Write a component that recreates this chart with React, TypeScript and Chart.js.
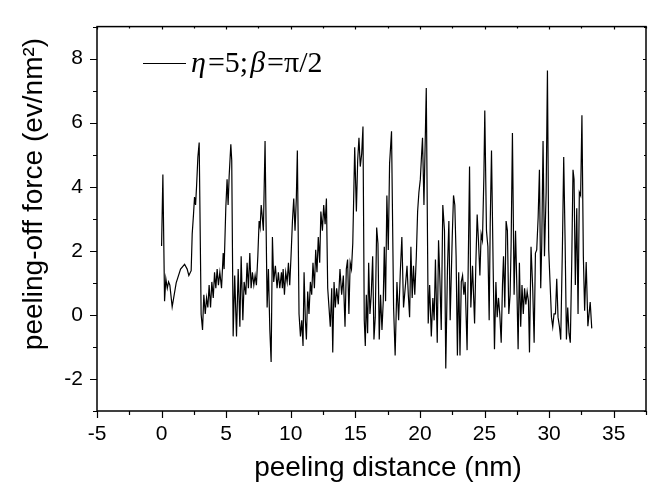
import React, { useEffect, useRef } from 'react';
import { Chart, registerables } from 'chart.js';

Chart.register(...registerables);

const distance = [
  0.0, 0.1, 0.23, 0.33, 0.44, 0.54, 0.64, 0.82, 1.13, 1.47, 1.78, 1.98, 2.11, 2.29, 2.37, 2.47, 2.55, 2.63, 2.71, 2.81,
  2.91, 3.06, 3.17, 3.27, 3.38, 3.48, 3.58, 3.68, 3.79, 3.89, 4.0, 4.1, 4.2, 4.3, 4.4, 4.51, 4.64, 4.77, 4.84, 4.97,
  5.07, 5.15, 5.23, 5.36, 5.43, 5.54, 5.66, 5.8, 5.93, 6.06, 6.16, 6.29, 6.39, 6.52, 6.62, 6.72, 6.83, 6.93, 7.03, 7.14,
  7.24, 7.34, 7.45, 7.55, 7.63, 7.71, 7.78, 7.88, 8.01, 8.17, 8.27, 8.38, 8.48, 8.58, 8.68, 8.81, 8.94, 9.04, 9.15, 9.28,
  9.35, 9.41, 9.51, 9.61, 9.72, 9.82, 9.92, 10.02, 10.13, 10.23, 10.33, 10.43, 10.51, 10.64, 10.75, 10.85, 10.95, 11.03, 11.13, 11.21,
  11.31, 11.41, 11.52, 11.62, 11.72, 11.83, 11.93, 12.03, 12.13, 12.24, 12.33, 12.45, 12.55, 12.66, 12.76, 12.86, 12.96, 13.06, 13.17, 13.25,
  13.35, 13.45, 13.55, 13.68, 13.81, 13.94, 14.07, 14.2, 14.3, 14.4, 14.5, 14.6, 14.7, 14.8, 14.95, 15.08, 15.18, 15.28, 15.38, 15.49,
  15.59, 15.69, 15.77, 15.85, 15.95, 16.03, 16.13, 16.23, 16.34, 16.44, 16.54, 16.65, 16.75, 16.85, 16.95, 17.06, 17.16, 17.24, 17.34, 17.44,
  17.55, 17.65, 17.8, 17.96, 18.08, 18.22, 18.35, 18.48, 18.6, 18.73, 18.9, 19.0, 19.1, 19.2, 19.3, 19.4, 19.5, 19.6, 19.72, 19.82,
  19.92, 20.03, 20.13, 20.2, 20.31, 20.49, 20.64, 20.75, 20.88, 21.0, 21.1, 21.2, 21.34, 21.44, 21.55, 21.65, 21.77, 21.9, 22.0, 22.13,
  22.24, 22.34, 22.5, 22.6, 22.7, 22.8, 22.9, 23.0, 23.1, 23.2, 23.3, 23.4, 23.5, 23.65, 23.84, 23.94, 24.07, 24.23, 24.33, 24.43,
  24.53, 24.64, 24.74, 24.84, 24.95, 25.02, 25.15, 25.26, 25.36, 25.44, 25.54, 25.67, 25.77, 25.88, 25.98, 26.08, 26.18, 26.29, 26.39, 26.47,
  26.57, 26.67, 26.77, 26.88, 26.98, 27.06, 27.16, 27.29, 27.4, 27.5, 27.6, 27.7, 27.8, 27.9, 28.0, 28.1, 28.2, 28.3, 28.4, 28.48,
  28.6, 28.73, 28.84, 28.94, 29.04, 29.15, 29.25, 29.35, 29.43, 29.53, 29.64, 29.77, 29.87, 29.97, 30.07, 30.18, 30.28, 30.38, 30.49, 30.59,
  30.69, 30.8, 30.9, 31.03, 31.13, 31.24, 31.34, 31.44, 31.54, 31.64, 31.75, 31.85, 31.93, 32.03, 32.14, 32.24, 32.34, 32.44, 32.54, 32.65,
  32.75, 32.87, 33.0, 33.18, 33.3,
];

const force = [
  2.15, 4.38, 0.43, 1.13, 0.83, 1.03, 0.93, 0.25, 1.0, 1.43, 1.58, 1.43, 1.23, 1.38, 2.53, 3.13, 3.68, 3.43, 4.03, 4.93,
  5.38, 0.03, -0.47, 0.63, 0.03, 0.53, 0.23, 0.93, 0.23, 1.03, 0.53, 1.33, 0.83, 1.43, 0.93, 1.33, 0.83, 1.93, 1.43, 3.33,
  4.23, 3.43, 4.33, 5.33, 4.83, -0.67, 1.23, -0.67, 1.43, -0.37, 1.83, -0.17, 1.03, 0.63, 1.63, 0.83, 1.93, 0.83, 1.33, 0.93,
  1.23, 0.93, 1.83, 2.93, 2.73, 3.43, 3.13, 2.63, 5.43, 0.23, 1.43, -0.47, -1.47, 2.43, 1.03, 1.53, 0.83, 1.33, 0.83, 1.33,
  0.83, 1.43, 0.63, 1.33, 1.03, 1.63, 0.93, 1.83, 2.93, 3.63, 2.63, 3.63, 5.13, 0.03, -0.67, -0.17, -0.97, 1.33, -0.17, -0.77,
  0.73, 0.03, 1.03, 0.63, 1.63, 0.83, 2.03, 1.33, 2.43, 1.63, 3.23, 2.63, 3.43, 2.83, 3.63, 0.83, 0.23, -0.37, 0.83, -1.17,
  1.03, 0.23, 0.83, 0.33, 1.43, 0.63, 1.23, -0.37, 1.43, 1.73, 0.03, 1.63, 1.43, 2.23, 5.23, 3.23, 4.83, 5.53, 4.63, 5.03,
  5.88, -0.17, -0.97, 0.63, -0.57, 1.63, 0.03, 0.63, 1.83, -0.77, -0.07, 2.73, 2.23, -0.77, 0.63, -0.47, 0.43, 2.13, 0.43, 3.73,
  2.03, 4.73, 5.73, 0.23, -1.27, 1.03, -0.17, 1.33, 2.43, 0.23, 1.03, 1.53, 0.63, -0.07, 2.13, 0.53, 1.53, 0.63, 1.83, 3.23,
  3.83, 4.23, 5.03, 5.53, 3.43, 7.08, -0.27, 0.93, -0.67, 0.53, -0.17, 1.73, -0.87, 2.33, 1.03, -0.47, 3.43, 2.63, -1.67, 1.43,
  2.93, -0.17, 2.43, 3.73, 3.43, 1.83, -1.27, 1.33, -1.27, 1.03, 1.23, 0.63, 1.03, -1.1, 4.63, 0.23, 1.53, -0.27, 1.63, 3.13,
  2.33, 1.23, 2.53, 2.33, 4.33, 6.38, 2.63, 2.13, -0.17, 2.83, 5.13, 1.43, -1.07, 1.03, -0.07, 0.53, 0.03, -0.87, 0.93, 1.83,
  0.23, 2.93, 2.63, 0.03, 0.63, 2.23, 5.68, 0.63, 2.63, 0.93, -1.07, 1.63, -0.37, 0.93, 0.03, 0.83, 0.33, 0.73, 0.43, -1.17,
  2.13, 0.83, -0.87, 1.93, 2.03, 3.03, 4.53, 0.83, 2.23, 5.43, 1.83, 3.83, 7.63, 2.03, 1.03, -0.07, -0.37, 0.03, 0.03, 1.13,
  -0.07, -0.37, -0.77, 2.13, 4.93, 2.23, -0.77, 0.23, -0.57, -0.87, 1.63, 4.53, 4.23, 0.93, 3.33, 0.03, 3.83, 3.73, 6.23, 1.83,
  0.13, 1.65, -0.35, 0.4, -0.42,
];

const xMajorTicks = [-5, 0, 5, 10, 15, 20, 25, 30, 35];
const xMinorTicks = [-2.5, 2.5, 7.5, 12.5, 17.5, 22.5, 27.5, 32.5, 37.5];
const yMajorTicks = [-2, 0, 2, 4, 6, 8];
const yMinorTicks = [-3, -1, 1, 3, 5, 7, 9];

const xTitle = 'peeling distance (nm)';
const yTitle = 'peeling-off force (ev/nm²)';
const legendParts: [string, boolean][] = [
  ['η', true],
  ['=5;', false],
  ['β', true],
  ['=π/2', false],
];

const SANS = "'Liberation Sans', Arial, sans-serif";
const SERIF = "'Liberation Serif', 'Times New Roman', serif";

const framePlugin = {
  id: 'originFrame',
  afterDraw(chart: any) {
    const { ctx, chartArea: a, scales } = chart;
    const x = scales.x;
    const y = scales.y;
    ctx.save();
    ctx.strokeStyle = '#000';
    ctx.lineWidth = 1.5;
    ctx.strokeRect(a.left, a.top, a.right - a.left, a.bottom - a.top);

    ctx.lineWidth = 1.2;
    ctx.beginPath();
    const xt = (vals: number[], outLen: number, inLen: number) => {
      vals.forEach((v) => {
        const px = Math.round(x.getPixelForValue(v)) + 0.5;
        ctx.moveTo(px, a.bottom);
        ctx.lineTo(px, a.bottom + outLen);
        ctx.moveTo(px, a.top);
        ctx.lineTo(px, a.top + inLen);
      });
    };
    const yt = (vals: number[], outLen: number, inLen: number) => {
      vals.forEach((v) => {
        const py = Math.round(y.getPixelForValue(v)) + 0.5;
        ctx.moveTo(a.left, py);
        ctx.lineTo(a.left - outLen, py);
        ctx.moveTo(a.right, py);
        ctx.lineTo(a.right - inLen, py);
      });
    };
    xt(xMajorTicks, 7, 3);
    xt(xMinorTicks, 4, 2);
    yt(yMajorTicks, 7, 3);
    yt(yMinorTicks, 4, 2);
    ctx.stroke();

    // axis titles
    ctx.fillStyle = '#000';
    ctx.font = `28px ${SANS}`;
    ctx.textAlign = 'center';
    ctx.textBaseline = 'alphabetic';
    ctx.fillText(xTitle, 388, 476);
    ctx.save();
    ctx.translate(42, 194);
    ctx.rotate(-Math.PI / 2);
    ctx.fillText(yTitle, 0, 0);
    ctx.restore();

    // legend
    ctx.lineWidth = 1;
    ctx.beginPath();
    ctx.moveTo(143, 63.5);
    ctx.lineTo(186, 63.5);
    ctx.stroke();
    let tx = 191;
    ctx.textAlign = 'left';
    legendParts.forEach(([t, italic]) => {
      ctx.font = `${italic ? 'italic ' : ''}30px ${SERIF}`;
      ctx.fillText(t, tx, 72);
      tx += ctx.measureText(t).width + 2;
    });
    ctx.restore();
  },
};

export default function App() {
  const ref = useRef<HTMLCanvasElement | null>(null);
  useEffect(() => {
    document.body.style.margin = '0';
    const canvas = ref.current;
    if (!canvas) return;
    const points = distance.map((d, i) => ({ x: d, y: force[i] }));
    const chart = new Chart(canvas, {
      type: 'line',
      data: {
        datasets: [
          {
            label: 'η=5; β=π/2',
            data: points,
            borderColor: '#000',
            borderWidth: 1.2,
            pointRadius: 0,
            tension: 0,
            fill: false,
          },
        ],
      },
      options: {
        responsive: false,
        animation: false,
        layout: { padding: { top: 11, right: 7, left: 0, bottom: 0 } },
        plugins: { legend: { display: false }, tooltip: { enabled: false } },
        scales: {
          x: {
            type: 'linear',
            min: -5,
            max: 37.5,
            grid: { display: false, drawTicks: false },
            border: { display: false },
            afterBuildTicks: (s: any) => {
              s.ticks = xMajorTicks.map((value) => ({ value }));
            },
            afterFit: (s: any) => {
              s.height = 79;
            },
            ticks: {
              color: '#000',
              padding: 11,
              maxRotation: 0,
              font: { family: SANS, size: 21 },
              callback: (v: any) => String(v),
            },
          },
          y: {
            type: 'linear',
            min: -3,
            max: 9,
            grid: { display: false, drawTicks: false },
            border: { display: false },
            afterBuildTicks: (s: any) => {
              s.ticks = yMajorTicks.map((value) => ({ value }));
            },
            afterFit: (s: any) => {
              s.width = 97;
            },
            ticks: {
              color: '#000',
              padding: 14,
              font: { family: SANS, size: 21 },
              callback: (v: any) => String(v),
            },
          },
        },
      },
      plugins: [framePlugin],
    });
    return () => chart.destroy();
  }, []);
  return (
    <div style={{ width: 653, height: 490, background: '#fff' }}>
      <canvas ref={ref} width={653} height={490} />
    </div>
  );
}
